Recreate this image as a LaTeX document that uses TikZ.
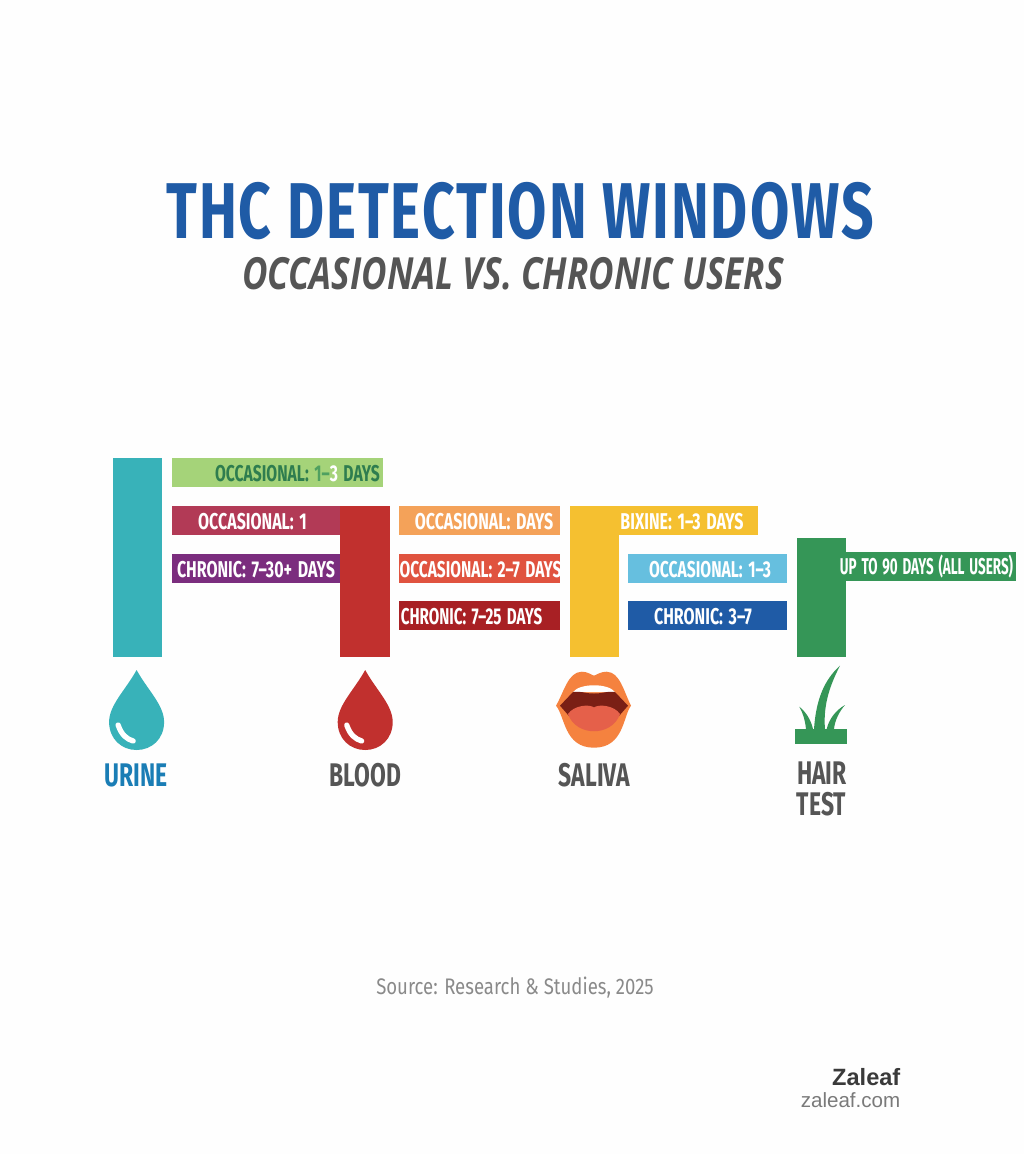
\documentclass[tikz,border=0pt]{standalone}
\usepackage{fontspec}
\usepackage{tikz}
\setmainfont{Fira Sans}
\newfontfamily\titlefont[FakeStretch=0.72,LetterSpace=2.5]{Fira Sans}
\newfontfamily\subfont[FakeStretch=0.79]{Open Sans}
\newfontfamily\barfont[FakeStretch=0.70,WordSpace=1.5]{Fira Sans}
\newfontfamily\sourcefont[FakeStretch=0.825]{Fira Sans}
\newfontfamily\brandfont{Liberation Sans}
\definecolor{pagecol}{HTML}{FEFEFE}
\definecolor{urinecol}{HTML}{38B2B9}
\definecolor{bloodcol}{HTML}{C1302E}
\definecolor{salivacol}{HTML}{F5C030}
\definecolor{haircol}{HTML}{359657}
\definecolor{titlecol}{HTML}{1F5BA6}
\definecolor{greycol}{HTML}{555555}
\definecolor{limecol}{HTML}{A5D379}
\definecolor{limedark}{HTML}{2E7D4F}
\definecolor{limemid}{HTML}{4FA060}
\definecolor{rosecol}{HTML}{B23A56}
\definecolor{purplecol}{HTML}{7B2D7E}
\definecolor{orangecol}{HTML}{F4A259}
\definecolor{tomatocol}{HTML}{E0533F}
\definecolor{darkredcol}{HTML}{A82024}
\definecolor{skycol}{HTML}{66BFDF}
\definecolor{lipcol}{HTML}{F5823F}
\definecolor{mouthcol}{HTML}{7A1F15}
\definecolor{tonguecol}{HTML}{E5604A}
\definecolor{urinetextcol}{HTML}{1A7DB5}
\definecolor{sourcecol}{HTML}{8A8A8A}
\definecolor{brandcol}{HTML}{3A3A3A}
\definecolor{linkcol}{HTML}{7A7A7A}
\tikzset{
  barbox/.style={inner sep=0pt,outer sep=0pt,anchor=north west},
  barlabel/.style={inner sep=0pt,anchor=base,text=white,font=\barfont\fontsize{6.5}{7}\selectfont\bfseries},
  kindlabel/.style={inner sep=0pt,anchor=base,text=greycol,font=\barfont\fontsize{9.3}{10}\selectfont\bfseries},
}
% drop icon: centre x, colour
\newcommand{\dropicon}[2]{
  \fill[#2] (#1,670) .. controls (#1-11,690) and (#1-27.5,705) .. (#1-27.5,722)
    .. controls (#1-27.5,739) and (#1-15,750) .. (#1,750)
    .. controls (#1+15,750) and (#1+27.5,739) .. (#1+27.5,722)
    .. controls (#1+27.5,705) and (#1+11,690) .. (#1,670) -- cycle;
  \draw[white,line width=1.5pt,line cap=round] (#1-18.5,725) .. controls (#1-15,735) and (#1-10,739) .. (#1-3.5,741);
}
\begin{document}
\begin{tikzpicture}[x=0.01cm,y=-0.01cm]
        \fill[pagecol] (0,0) rectangle (1024,1154);
        \useasboundingbox (0,0) rectangle (1024,1154);
        \node[inner sep=0pt,anchor=base,text=titlecol,font=\titlefont\fontsize{22.5}{26}\selectfont\bfseries] (title) at (520,238) {THC DETECTION WINDOWS};
        \node[inner sep=0pt,anchor=base,text=greycol,font=\subfont\fontsize{12.6}{14}\selectfont\bfseries\itshape] (subtitle) at (513,289) {OCCASIONAL VS. CHRONIC USERS};
        % urine
        \node[barbox,fill=urinecol,minimum width=0.49cm,minimum height=1.99cm] (urinebar) at (113,458) {};
        \node[barbox,fill=limecol,minimum width=2.11cm,minimum height=0.29cm] (urineA) at (172,458) {};
        \node[barbox,fill=rosecol,minimum width=1.69cm,minimum height=0.29cm] (urineB) at (172,506) {};
        \node[barbox,fill=purplecol,minimum width=1.69cm,minimum height=0.29cm] (urineC) at (172,554) {};
        \node[barlabel] (urineAtext) at (297.5,481.5) {\scalebox{0.98}[1]{\textcolor{limedark}{OCCASIONAL:} \textcolor{limemid}{1–}3 \textcolor{limedark}{DAYS}}};
        \node[barlabel] (urineBtext) at (252.5,529) {OCCASIONAL: 1};
        \node[barlabel] (urineCtext) at (256,577) {CHRONIC: 7–30+ DAYS};
        % blood
        \node[barbox,fill=bloodcol,minimum width=0.50cm,minimum height=1.51cm] (bloodbar) at (340,506) {};
        \node[barbox,fill=orangecol,minimum width=1.61cm,minimum height=0.29cm] (bloodA) at (399,506) {};
        \node[barbox,fill=tomatocol,minimum width=1.61cm,minimum height=0.29cm] (bloodB) at (399,554) {};
        \node[barbox,fill=darkredcol,minimum width=1.61cm,minimum height=0.29cm] (bloodC) at (399,601) {};
        \node[barlabel] (bloodAtext) at (484,529) {OCCASIONAL: DAYS};
        \node[barlabel] (bloodBtext) at (480.5,577) {\scalebox{0.97}[1]{OCCASIONAL: 2–7 DAYS}};
        \node[barlabel] (bloodCtext) at (471.5,624) {\scalebox{0.95}[1]{CHRONIC: 7–25 DAYS}};
        % saliva
        \node[barbox,fill=salivacol,minimum width=0.49cm,minimum height=1.51cm] (salivabar) at (570,506) {};
        \node[barbox,fill=salivacol,minimum width=1.88cm,minimum height=0.29cm] (salivaA) at (570,506) {};
        \node[barbox,fill=skycol,minimum width=1.59cm,minimum height=0.29cm] (salivaB) at (628,554) {};
        \node[barbox,fill=titlecol,minimum width=1.59cm,minimum height=0.29cm] (salivaC) at (628,601) {};
        \node[barlabel] (salivaAtext) at (682,529) {BIXINE: 1–3 DAYS};
        \node[barlabel] (salivaBtext) at (710,577) {\scalebox{0.98}[1]{OCCASIONAL: 1–3}};
        \node[barlabel] (salivaCtext) at (703,624) {CHRONIC: 3–7};
        % hair
        \node[barbox,fill=haircol,minimum width=0.49cm,minimum height=1.19cm] (hairbar) at (797,538) {};
        \node[barbox,fill=haircol,minimum width=1.70cm,minimum height=0.29cm] (hairA) at (846,552) {};
        \node[barlabel] (hairAtext) at (926.5,574) {\scalebox{0.84}[1]{UP TO 90 DAYS (ALL USERS)}};
        % icons
        \dropicon{136.6}{urinecol}
        \dropicon{365.2}{bloodcol}
        \fill[lipcol] (556,705.7) .. controls (564,692) and (568,672) .. (581.7,671.7)
          .. controls (587,671.7) and (590,674) .. (594,675.7)
          .. controls (598,674) and (601,671.7) .. (606.7,671.7)
          .. controls (620,672) and (624,692) .. (631,705.7)
          .. controls (623,716) and (624,747.7) .. (594,747.7)
          .. controls (564,747.7) and (565,716) .. (556,705.7) -- cycle;
        \fill[white] (573,692) .. controls (580,683) and (608,683) .. (615,692) -- cycle;
        \fill[mouthcol] (560,705.7) -- (573,692) .. controls (582,691) and (588,694) .. (594,693.5)
          .. controls (600,694) and (606,691) .. (615,692) -- (628,705.7) -- (619,716) -- (569,716) -- cycle;
        \fill[tonguecol] (568,714) .. controls (574,705) and (590,704) .. (594,707.5)
          .. controls (598,704) and (614,705) .. (620,714)
          .. controls (612,737) and (576,737) .. (568,714) -- cycle;
        \fill[haircol] (795.3,729) rectangle (847,743.7);
        \fill[haircol] (814,729) .. controls (816,700) and (824,680) .. (840,665.7)
          .. controls (830,685) and (823,705) .. (825,729) -- cycle;
        \fill[haircol] (799.3,706.7) .. controls (806,712) and (811,720) .. (813,729) -- (806,729)
          .. controls (805,720) and (803,713) .. (799.3,706.7) -- cycle;
        \fill[haircol] (845,705) .. controls (836,710) and (829,719) .. (826.7,729) -- (834,729)
          .. controls (835,720) and (839,712) .. (845,705) -- cycle;
        % sample names
        \node[kindlabel,text=urinetextcol] (urinetext) at (136,786.7) {URINE};
        \node[kindlabel] (bloodtext) at (365.5,786.7) {BLOOD};
        \node[kindlabel] (salivatext) at (594.5,786.7) {SALIVA};
        \node[kindlabel] (hairtext) at (822,784) {HAIR};
        \node[kindlabel] (testtext) at (821.5,815) {TEST};
        % footer
        \node[inner sep=0pt,anchor=base,text=sourcecol,font=\sourcefont\fontsize{6.4}{8}\selectfont] (source) at (515,994) {Source: Research \& Studies, 2025};
        \node[inner sep=0pt,anchor=base east,text=brandcol,font=\brandfont\fontsize{6.7}{8}\selectfont\bfseries] (brand) at (901,1085) {Zaleaf};
        \node[inner sep=0pt,anchor=base east,text=linkcol,font=\brandfont\fontsize{5.85}{8}\selectfont] (link) at (901,1107) {zaleaf.com};
\end{tikzpicture}
\end{document}
